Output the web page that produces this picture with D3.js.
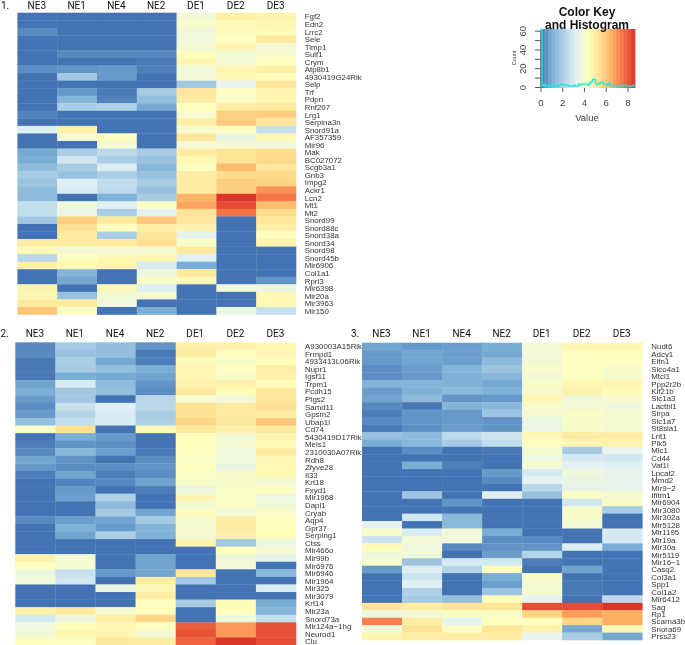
<!DOCTYPE html>
<html><head><meta charset="utf-8">
<script src="https://cdnjs.cloudflare.com/ajax/libs/d3/7.8.5/d3.min.js"></script>
<style>html,body{margin:0;padding:0;background:#fff;overflow:hidden}svg{display:block;filter:blur(0.4px)}</style>
</head><body><svg id="c" width="685" height="645"></svg>
<script>
const samples=["NE3","NE1","NE4","NE2","DE1","DE2","DE3"];
const genes1=["Fgf2","Edn2","Lrrc2","Sele","Timp1","Sulf1","Crym","Atp8b1","4930419G24Rik","Selp","Trf","Pdpn","Rnf207","Lrg1","Serpina3n","Snord91a","AF357359","Mir96","Mak","BC027072","Scgb3a1","Gnb3","Impg2","Ackr1","Lcn2","Mt1","Mt2","Snord99","Snord88c","Snord38a","Snord34","Snord98","Snord45b","Mir6906","Col1a1","Rprl3","Mir6398","Mir20a","Mir3963","Mir150"];
const values1=[
[0,0,0,0,3.9,4.9,4.7],[0,0,0,0,4.1,4.5,4.6],[0.4,0,0,0,3.8,4.5,4.5],[0,0,0,0,3.8,4.3,5.1],[0,0,0,0,3.9,4.7,3.9],
[0,0.4,0.4,0.4,4.4,3.9,4.1],[0,0,0,0.1,4.7,3.9,4.3],[0.5,0.6,0.7,0.2,3.8,4.7,4.9],[0,1.9,0.7,0,3.9,4.6,4.4],[0,0,0,0,1.9,3.4,5.2],
[0,0.7,0.1,2,5.2,4.3,4.8],[0,1.3,0.3,1.6,5,4.2,4.6],[0,2.1,2.2,1,4.4,5,5.1],[0.3,0,0,0,4,5.8,5.8],[0,0,0,0,4.9,5.9,5.2],
[3.2,4.9,0,0,4.1,4.3,2.7],[0,3.9,4.4,0,5.2,3.6,4.6],[0,0,4,0,3.9,3.9,3.8],[1,2.1,2.5,2,5,5.3,5.5],[1.1,2.9,2.1,1.7,4.6,5.3,5.6],
[1.5,2,3.1,1.4,4.3,6.2,5.2],[2,1.7,2.1,1.7,5,5.5,5.6],[1.8,3.2,2.6,2,5,5.9,5.7],[1.5,3.1,2.5,1.7,5,5.8,7],[1.5,0,1.2,2,6.4,8.6,7.5],
[2.6,3.8,3.3,4.2,6.7,8.2,6.2],[2.6,3.6,2.1,3.3,5.2,7.5,5.5],[1.9,5.8,5.1,6,5.2,0,5.2],[0,5.4,4.4,4.9,4.8,0,4.9],[0,5.1,2.1,5.2,3.5,0,4.4],
[5,5.1,5.1,5.4,4.2,0,4.8],[4.6,3.9,3.9,3.9,5.1,0,0],[2.4,4.3,4.6,4.7,3.2,0,0],[4.9,4.6,4.7,3.1,1.1,0,0],[0,1.3,0,3.7,5.1,0,0],
[0,1,0,4.2,4.6,0,0.6],[4.7,0,4.6,3.2,0,3.8,3.6],[4.6,1.7,3.9,4,0,0,4.6],[5.1,5,3.8,0,0,0,4.6],[6,4.2,0,1.1,0,3.6,2.7]];
const genes2=["A930003A15Rik","Frmpd1","4933413L06Rik","Nupr1","Igsf11","Trpm1","Pcdh15","Ptgs2","Samd11","Gpsm2","Ubap1l","Cd74","5430419D17Rik","Meis1","2310030A07Rik","Rdh8","Zfyve28","Il33","Krt18","Fxyd1","Mir1968","Dapl1","Cryab","Aqp4","Gpr37","Serping1","Ctss","Mir466o","Mir99b","Mir6976","Mir6946","Mir1964","Mir325","Mir3079","Krt14","Mir23a","Snord73a","Mir124a−1hg","Neurod1","Clu"];
const values2=[
[0.4,2,1.6,0.6,4.8,4.8,4.6],[0.4,1.7,1.6,0.1,5,4.3,4.6],[0.1,2.1,1,0.2,4.5,4.1,4.4],[0.1,2,1.6,1.1,4.7,4.3,4.9],[0.1,1.1,1,0.9,4.7,4.1,4.8],
[0.9,3.1,1.5,0.6,4.8,4.8,4.5],[1.1,1.9,1.6,0.5,5.1,4.5,5.2],[0.7,1.9,0,2.4,4,3.9,5.2],[0.5,2.7,3.2,2.4,5.4,5.1,5.4],[0.7,2.3,3.1,2.1,5.4,5.1,5],
[1.6,2.6,3.1,2.2,5.7,5.1,6],[4.1,5.4,0,4.5,5.1,4.8,5.1],[0,1.1,0.7,0,4.4,3.9,4.7],[0.2,0.6,0.5,0,4.4,3.9,4.5],[0.4,1.4,0.8,0.1,4.4,3.8,5.1],
[0.9,0.6,0,0.5,4.2,3.8,4.6],[0.7,0.5,0.5,0.6,4.4,3.6,4.6],[0.2,0.9,0.2,0.5,4.2,4.1,4.6],[0,0.3,0.4,0.9,4.1,4.1,3.9],[0,0.7,0,0.2,3.6,4.2,4.3],
[0,0.8,2.2,0,4.7,4.2,3.7],[0,0,1.5,0,4,4.2,3.8],[0,0,2,0.9,4.4,3.9,4.2],[0.4,0.8,0.9,2,4,5,4.3],[0,1.2,0.7,1.3,4,5,4.4],
[0,0.9,2.1,1.2,4,4.9,4.5],[0,0,0,0,4.7,1.9,3.7],[0,0,0,0,0,4.4,4],[4.8,3.9,0,0.9,0,3.8,3.5],[4.3,4,0,0.9,0,3.9,0],
[3.7,2.7,0.7,0.9,5.2,0,1.4],[3.8,2.9,0,5,1.9,0,0],[0,0,3.6,4.6,0,0,3.1],[0,0,0,5,0,0,0],[0,0,0,4.4,2,4.5,1.1],
[4.9,5.1,4,4.3,0,4.4,1.3],[3,3.7,4.9,5.7,0,3.8,2.6],[3.7,4.4,4.7,4.3,7.9,6.9,8.1],[3.8,4.6,4.7,3.9,8.1,6.9,8.1],[4.4,4.3,5.1,5,7.8,8.6,8.2]];
const genes3=["Nudt6","Adcy1","Elfn1","Slco4a1","Mtcl1","Ppp2r2b","Kif21b","Slc1a3","Lactbl1","Sirpa","Slc1a7","St8sia1","Lrit1","Plk5","Mlc1","Cd44","Vat1l","Lpcat2","Mmd2","Mir9−2","Ifitm1","Mir6904","Mir3080","Mir302a","Mir5128","Mir1195","Mir19a","Mir30a","Mir5119","Mir16−1","Casq2","Col3a1","Spp1","Col1a2","Mir6412","Sag","Rp1","Scarna3b","Snora69","Prss23"];
const values3=[
[0.9,0.7,0.8,1.1,3.9,4.6,4.6],[0.7,0.9,0.8,1,3.9,4.4,4.4],[0.7,0.9,0.8,1.5,3.9,4.3,4.3],[0.5,0.8,1.3,1.8,4.1,4.3,4.1],[0.5,0.7,1.2,1.4,3.9,4.3,4.1],
[1.3,1.3,1.2,1,4.1,4.6,4.7],[0.8,1.2,1.4,1.2,4.1,4.8,4.5],[0.9,1.5,0.6,0.7,4.6,3.8,4.1],[0.4,0.1,1.3,1.4,4.1,3.9,3.8],[0.2,0.6,0.7,1.8,4,4.2,4],
[0.4,0.6,0.7,0.6,3.6,4.1,4],[0.1,0.5,0.8,0.6,3.6,4.1,3.9],[1.7,1.5,2.5,2.8,4.6,5,5],[1.1,1.4,2,2.6,4.3,4.7,4.8],[0,0.5,0,0.1,4,2,3.4],
[0,0,0,0,3.7,3,2.9],[0,1.1,0.2,0,4,3.3,3.2],[0,0,0,0.7,3,3.8,3.5],[0,0,0,0.4,3.3,3.6,3.5],[0,0,0,0,2.4,3.5,3.5],
[0,1.8,0,3.2,1.7,4.2,4],[0,0,0.6,0,0,2.9,4.1],[0,0,0,0,0,4.1,2],[0,2.9,1.4,0,0,4.1,0],[3.3,0,1.4,0,0,3.9,0],
[4.1,3.1,3.8,1.1,0,0,3],[2.8,3.9,3.8,0.5,0.4,0,3],[4.5,3.7,0.4,0.6,0.6,3.1,1.1],[3.8,3.8,0,0.8,2.3,0,0],[4.1,1.8,3,2.9,0.2,0,0],
[0.7,3.2,2.3,4.4,0,0.9,0],[0,2.8,0,1.1,4.1,0,0],[0,3.2,0,0.8,4,0.1,0],[0,2.2,0,1.8,4,0.1,0],[0,2,1.6,4.4,3.4,0,2.5],
[5.2,5,5.3,5.3,8.2,8.2,8.6],[3.7,3.9,4.2,4.2,5.7,6.8,6.5],[7.3,4.9,3.4,4.4,4.4,5.7,6.5],[3.9,5.3,4.2,5.2,4.8,1,4.6],[4.7,4.9,5,5,3.4,2,1]];
const histCounts=[62,1,3,1,1,2,1,1,1,2,1,1,2,3,3,2,2,2,1,1,1,2,1,1,3,2,3,3,3,3,2,4,6,8,8,3,3,4,5,5,3,3,2,4,2,1,1,2,1,1,1,1,2,2,1,1,1,1,1,2];
const palette=["#4473b3","#7aaed5","#aed0e6","#e2f1f5","#ffffbf","#fee090","#fdae61","#f46d43","#d73027"];
const vMax=8.7;
const color=d3.scaleLinear().domain(palette.map((_,i)=>i*vMax/(palette.length-1))).range(palette).clamp(true);
const svg=d3.select("#c");
const HEAD="Roboto,sans-serif", LAB="'Liberation Sans',Arial,sans-serif";

function heat(o){
  const x=d3.scaleBand().domain(samples).range([o.x0,o.x1]);
  const y=d3.scaleBand().domain(o.genes).range([o.y0,o.y1]);
  const g=svg.append("g");
  o.values.forEach((row,r)=>{
    g.selectAll(null).data(row).join("rect")
      .attr("x",(d,i)=>x(samples[i])).attr("y",y(o.genes[r]))
      .attr("width",x.bandwidth()+0.3).attr("height",y.bandwidth()+0.3)
      .attr("fill",d=>color(d));
  });
  g.selectAll(null).data(o.genes).join("text")
    .attr("x",o.labelX).attr("y",d=>y(d)+y.bandwidth()/2+o.labelDy)
    .attr("font-family",LAB).attr("font-size",7.9).attr("fill","#333").text(d=>d);
  g.selectAll(null).data(samples).join("text")
    .attr("x",d=>x(d)+x.bandwidth()/2+o.headDx).attr("y",o.headY).attr("text-anchor","middle")
    .attr("font-family",HEAD).attr("font-size",10).attr("fill","#111").text(d=>d);
  svg.append("text").attr("x",o.numX).attr("y",o.headY).attr("font-family",HEAD)
    .attr("font-size",10).attr("fill","#111").text(o.num);
}
heat({genes:genes1,values:values1,x0:17.4,x1:296,y0:12.7,y1:314.5,labelX:304.7,labelDy:3,headY:9.4,headDx:-0.5,numX:1,num:"1."});
heat({genes:genes2,values:values2,x0:15.3,x1:296,y0:342.3,y1:645,labelX:305,labelDy:3,headY:337,headDx:-0.5,numX:0.5,num:"2."});
heat({genes:genes3,values:values3,x0:362,x1:642.3,y0:342.7,y1:640,labelX:651.3,labelDy:3,headY:337,headDx:-0.5,numX:351,num:"3."});

// colour key
const kx=d3.scaleLinear().domain([0,vMax]).range([540.5,635]);
const ky=d3.scaleLinear().domain([0,60]).range([87,30.7]);
const kTop=29,kBot=88;
const stripes=d3.range(0,vMax,vMax/120);
svg.append("g").selectAll("rect").data(stripes).join("rect")
  .attr("x",d=>kx(d)).attr("y",kTop).attr("width",kx(vMax/120)-kx(0)+0.4).attr("height",kBot-kTop)
  .attr("fill",d=>color(d+vMax/240));
const xAxis=d3.axisBottom(kx).tickValues([0,2,4,6,8]).tickSize(4).tickPadding(7).tickSizeOuter(0);
const ax=svg.append("g").attr("transform",`translate(0,${kBot})`).call(xAxis);
ax.select(".domain").remove();
ax.selectAll("line").attr("stroke","#555");
ax.selectAll("text").attr("font-family",LAB).attr("font-size",9.5).attr("fill","#444");
const yAxis=d3.axisLeft(ky).tickValues(d3.range(0,61,10)).tickSize(5.5).tickSizeOuter(0).tickFormat(d=>d%20===0?d:"");
const ay=svg.append("g").attr("transform","translate(540.5,0)").call(yAxis);
ay.select(".domain").attr("stroke","#555");
ay.selectAll("line").attr("stroke","#555");
ay.selectAll("text").attr("font-family",LAB).attr("font-size",9.5).attr("fill","#444")
  .attr("text-anchor","middle").attr("dy",0).attr("x",0).attr("y",0)
  .attr("transform","translate(-17.5,0) rotate(-90) translate(0,3.4)");
const bw=vMax/histCounts.length;
const hist=d3.line().x(d=>kx(d[0])).y(d=>ky(Math.min(d[1],61.5))).curve(d3.curveStepAfter);
svg.append("path").attr("d",hist([...histCounts.map((c,i)=>[i*bw,c]),[vMax,histCounts[histCounts.length-1]]]))
  .attr("fill","none").attr("stroke","#1fe8dc").attr("stroke-width",1.3);
svg.append("text").attr("x",587).attr("y",16).attr("text-anchor","middle").attr("font-family",LAB).attr("font-weight","bold").attr("font-size",12).attr("fill","#111").text("Color Key");
svg.append("text").attr("x",587).attr("y",29).attr("text-anchor","middle").attr("font-family",LAB).attr("font-weight","bold").attr("font-size",12).attr("fill","#111").text("and Histogram");
svg.append("text").attr("x",587).attr("y",121).attr("text-anchor","middle").attr("font-family",LAB).attr("font-size",9.5).attr("fill","#444").text("Value");
svg.append("text").attr("transform","translate(516,58) rotate(-90)").attr("text-anchor","middle").attr("font-family",LAB).attr("font-size",5.5).attr("fill","#444").text("Count");
</script></body></html>
